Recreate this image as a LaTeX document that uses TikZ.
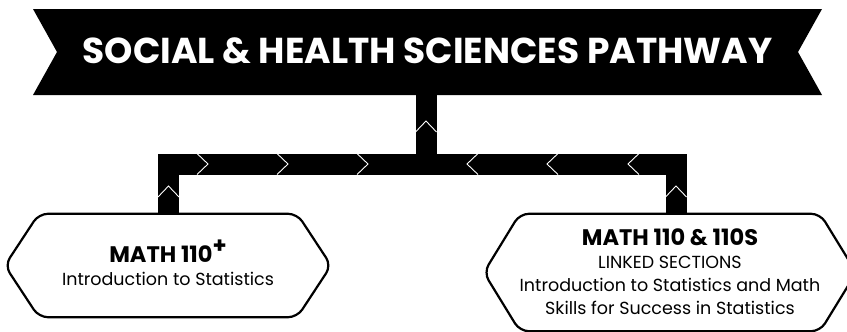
\documentclass[tikz,border=0pt]{standalone}
\usepackage{fontspec}
\setmainfont{Poppins}
\usetikzlibrary{calc}
\begin{document}
\begin{tikzpicture}[x=1pt,y=-1pt,
  bar/.style={line width=21pt, line join=miter, line cap=butt},
  chev/.style={white, line width=0.9pt, line join=miter},
  hexbox/.style={draw=none, inner sep=0pt},
  course/.style={draw=none, inner sep=0pt, align=center, text=black, font=\fontsize{17.5}{23}\selectfont},
  hexline/.style={line width=2.2pt, rounded corners=9pt},
  titlefont/.style={font=\bfseries\fontsize{36}{40}\selectfont}]
\newcommand{\headtxt}[1]{{\bfseries\fontsize{22.5}{23}\selectfont #1}}
\useasboundingbox (0,0) rectangle (847,332);
\fill[white] (0,0) rectangle (847,332);
% banner
\fill[black] (33,9) -- (822,9) -- (798,52) -- (822,95) -- (33,95) -- (57,52) -- cycle;
\node[text=white, titlefont, inner sep=0pt] (title) at (427.5,50.5) {SOCIAL \& HEALTH SCIENCES PATHWAY};
\coordinate (stemtop) at (426,95);
\coordinate (J) at (426,164);
% course boxes
\node[hexbox, minimum width=326pt, minimum height=103pt] (L) at (168,265.5) {};
\node[course] (Ltext) at ([yshift=3pt]L.center)
  {\headtxt{MATH 110\raisebox{.42em}{+}}\\
   Introduction to Statistics};
\node[hexbox, minimum width=372pt, minimum height=117pt] (R) at (670,272.5) {};
\node[course] (Rtext) at ([yshift=0.5pt]R.center)
  {\headtxt{MATH 110 \& 110S}\\
   LINKED SECTIONS\\
   Introduction to Statistics and Math\\
   Skills for Success in Statistics};
\foreach \n/\d in {L/34, R/36}{
  \draw[hexline] ($(\n.north west)+(\d,0)$) -- (\n.west) -- ($(\n.south west)+(\d,0)$)
     -- ($(\n.south east)+(-\d,0)$) -- (\n.east) -- ($(\n.north east)+(-\d,0)$) -- cycle;
}
% connectors
\draw[bar] (stemtop) -- (J);
\draw[bar] ([xshift=0.5pt]L.north) |- (J) -| ([xshift=6pt]R.north);
% chevrons
\foreach \x in {197,277,357}{
  \draw[chev] (\x,153.5) -- (\x+11,164) -- (\x,174.5);
}
\foreach \x in {467,547,628}{
  \draw[chev] (\x+11,153.5) -- (\x,164) -- (\x+11,174.5);
}
\draw[chev] (415.5,132) -- (426,121) -- (436.5,132);
\draw[chev] (158,197) -- (168.5,186) -- (179,197);
\draw[chev] (665.5,197) -- (676,186) -- (686.5,197);
\end{tikzpicture}
\end{document}
